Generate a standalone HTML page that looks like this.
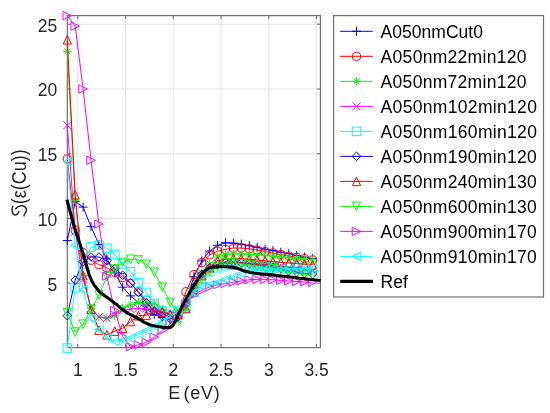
<!DOCTYPE html><html><head><meta charset="utf-8"><style>html,body{margin:0;padding:0;background:#fff;width:550px;height:413px;overflow:hidden}svg{display:block;will-change:transform}</style></head><body><svg width="550" height="413" viewBox="0 0 550 413">
<rect width="550" height="413" fill="#fff"/>
<path d="M77.80 15.6V347.6 M125.55 15.6V347.6 M173.30 15.6V347.6 M221.05 15.6V347.6 M268.80 15.6V347.6 M316.55 15.6V347.6 M67.3 283.30H320.4 M67.3 218.53H320.4 M67.3 153.75H320.4 M67.3 88.98H320.4 M67.3 24.20H320.4" stroke="#e3e3e3" stroke-width="1" fill="none"/>
<path d="M77.80 347.6V344.1M77.80 15.6V19.1 M125.55 347.6V344.1M125.55 15.6V19.1 M173.30 347.6V344.1M173.30 15.6V19.1 M221.05 347.6V344.1M221.05 15.6V19.1 M268.80 347.6V344.1M268.80 15.6V19.1 M316.55 347.6V344.1M316.55 15.6V19.1 M67.3 283.30H70.8M320.4 283.30H316.9 M67.3 218.53H70.8M320.4 218.53H316.9 M67.3 153.75H70.8M320.4 153.75H316.9 M67.3 88.98H70.8M320.4 88.98H316.9 M67.3 24.20H70.8M320.4 24.20H316.9" stroke="#707070" stroke-width="1.1" fill="none"/>
<rect x="67.3" y="15.6" width="253.10" height="332.00" stroke="#707070" stroke-width="1.2" fill="none"/>
<defs><clipPath id="cp"><rect x="61.3" y="9.6" width="265.09999999999997" height="344.0"/></clipPath></defs>
<g clip-path="url(#cp)" stroke-width="1" fill="none" stroke-linejoin="miter">
<path d="M67.30 240.55 L75.21 201.68 L83.12 207.12 L91.03 226.69 L98.94 244.44 L106.85 258.69 L114.76 272.94 L122.67 287.19 L130.58 295.87 L138.49 302.73 L146.40 309.21 L154.31 314.39 L162.22 317.63 L170.13 319.57 L178.04 315.69 L185.95 301.44 L193.86 276.82 L201.77 260.89 L209.68 251.04 L217.59 245.34 L225.50 242.75 L233.41 243.14 L241.32 244.18 L249.23 245.73 L257.14 247.41 L265.05 249.23 L272.96 250.65 L280.87 252.21 L288.78 253.76 L296.69 255.45 L304.60 257.13 L312.51 258.69" stroke="#0000ff"/>
<g><path d="M62.80 240.55H71.80M67.30 236.05V245.05" stroke="#0000ff"/><path d="M70.71 201.68H79.71M75.21 197.18V206.18" stroke="#0000ff"/><path d="M78.62 207.12H87.62M83.12 202.62V211.62" stroke="#0000ff"/><path d="M86.53 226.69H95.53M91.03 222.19V231.19" stroke="#0000ff"/><path d="M94.44 244.44H103.44M98.94 239.94V248.94" stroke="#0000ff"/><path d="M102.35 258.69H111.35M106.85 254.19V263.19" stroke="#0000ff"/><path d="M110.26 272.94H119.26M114.76 268.44V277.44" stroke="#0000ff"/><path d="M118.17 287.19H127.17M122.67 282.69V291.69" stroke="#0000ff"/><path d="M126.08 295.87H135.08M130.58 291.37V300.37" stroke="#0000ff"/><path d="M133.99 302.73H142.99M138.49 298.23V307.23" stroke="#0000ff"/><path d="M141.90 309.21H150.90M146.40 304.71V313.71" stroke="#0000ff"/><path d="M149.81 314.39H158.81M154.31 309.89V318.89" stroke="#0000ff"/><path d="M157.72 317.63H166.72M162.22 313.13V322.13" stroke="#0000ff"/><path d="M165.63 319.57H174.63M170.13 315.07V324.07" stroke="#0000ff"/><path d="M173.54 315.69H182.54M178.04 311.19V320.19" stroke="#0000ff"/><path d="M181.45 301.44H190.45M185.95 296.94V305.94" stroke="#0000ff"/><path d="M189.36 276.82H198.36M193.86 272.32V281.32" stroke="#0000ff"/><path d="M197.27 260.89H206.27M201.77 256.39V265.39" stroke="#0000ff"/><path d="M205.18 251.04H214.18M209.68 246.54V255.54" stroke="#0000ff"/><path d="M213.09 245.34H222.09M217.59 240.84V249.84" stroke="#0000ff"/><path d="M221.00 242.75H230.00M225.50 238.25V247.25" stroke="#0000ff"/><path d="M228.91 243.14H237.91M233.41 238.64V247.64" stroke="#0000ff"/><path d="M236.82 244.18H245.82M241.32 239.68V248.68" stroke="#0000ff"/><path d="M244.73 245.73H253.73M249.23 241.23V250.23" stroke="#0000ff"/><path d="M252.64 247.41H261.64M257.14 242.91V251.91" stroke="#0000ff"/><path d="M260.55 249.23H269.55M265.05 244.73V253.73" stroke="#0000ff"/><path d="M268.46 250.65H277.46M272.96 246.15V255.15" stroke="#0000ff"/><path d="M276.37 252.21H285.37M280.87 247.71V256.71" stroke="#0000ff"/><path d="M284.28 253.76H293.28M288.78 249.26V258.26" stroke="#0000ff"/><path d="M292.19 255.45H301.19M296.69 250.95V259.95" stroke="#0000ff"/><path d="M300.10 257.13H309.10M304.60 252.63V261.63" stroke="#0000ff"/><path d="M308.01 258.69H317.01M312.51 254.19V263.19" stroke="#0000ff"/></g>
<path d="M67.30 158.93 L75.21 230.18 L83.12 252.73 L91.03 260.24 L98.94 264.64 L106.85 267.75 L114.76 272.29 L122.67 277.47 L130.58 283.30 L138.49 291.72 L146.40 300.14 L154.31 307.91 L162.22 313.10 L170.13 315.69 L178.04 314.39 L185.95 291.72 L193.86 274.49 L201.77 262.57 L209.68 254.93 L217.59 251.17 L225.50 249.36 L233.41 248.06 L241.32 248.06 L249.23 248.84 L257.14 250.01 L265.05 251.56 L272.96 252.99 L280.87 254.54 L288.78 256.09 L296.69 257.39 L304.60 258.69 L312.51 259.98" stroke="#ff0000"/>
<g><circle cx="67.30" cy="158.93" r="4.1" stroke="#ff0000" fill="none"/><circle cx="75.21" cy="230.18" r="4.1" stroke="#ff0000" fill="none"/><circle cx="83.12" cy="252.73" r="4.1" stroke="#ff0000" fill="none"/><circle cx="91.03" cy="260.24" r="4.1" stroke="#ff0000" fill="none"/><circle cx="98.94" cy="264.64" r="4.1" stroke="#ff0000" fill="none"/><circle cx="106.85" cy="267.75" r="4.1" stroke="#ff0000" fill="none"/><circle cx="114.76" cy="272.29" r="4.1" stroke="#ff0000" fill="none"/><circle cx="122.67" cy="277.47" r="4.1" stroke="#ff0000" fill="none"/><circle cx="130.58" cy="283.30" r="4.1" stroke="#ff0000" fill="none"/><circle cx="138.49" cy="291.72" r="4.1" stroke="#ff0000" fill="none"/><circle cx="146.40" cy="300.14" r="4.1" stroke="#ff0000" fill="none"/><circle cx="154.31" cy="307.91" r="4.1" stroke="#ff0000" fill="none"/><circle cx="162.22" cy="313.10" r="4.1" stroke="#ff0000" fill="none"/><circle cx="170.13" cy="315.69" r="4.1" stroke="#ff0000" fill="none"/><circle cx="178.04" cy="314.39" r="4.1" stroke="#ff0000" fill="none"/><circle cx="185.95" cy="291.72" r="4.1" stroke="#ff0000" fill="none"/><circle cx="193.86" cy="274.49" r="4.1" stroke="#ff0000" fill="none"/><circle cx="201.77" cy="262.57" r="4.1" stroke="#ff0000" fill="none"/><circle cx="209.68" cy="254.93" r="4.1" stroke="#ff0000" fill="none"/><circle cx="217.59" cy="251.17" r="4.1" stroke="#ff0000" fill="none"/><circle cx="225.50" cy="249.36" r="4.1" stroke="#ff0000" fill="none"/><circle cx="233.41" cy="248.06" r="4.1" stroke="#ff0000" fill="none"/><circle cx="241.32" cy="248.06" r="4.1" stroke="#ff0000" fill="none"/><circle cx="249.23" cy="248.84" r="4.1" stroke="#ff0000" fill="none"/><circle cx="257.14" cy="250.01" r="4.1" stroke="#ff0000" fill="none"/><circle cx="265.05" cy="251.56" r="4.1" stroke="#ff0000" fill="none"/><circle cx="272.96" cy="252.99" r="4.1" stroke="#ff0000" fill="none"/><circle cx="280.87" cy="254.54" r="4.1" stroke="#ff0000" fill="none"/><circle cx="288.78" cy="256.09" r="4.1" stroke="#ff0000" fill="none"/><circle cx="296.69" cy="257.39" r="4.1" stroke="#ff0000" fill="none"/><circle cx="304.60" cy="258.69" r="4.1" stroke="#ff0000" fill="none"/><circle cx="312.51" cy="259.98" r="4.1" stroke="#ff0000" fill="none"/></g>
<path d="M67.30 51.41 L75.21 200.39 L83.12 275.53 L91.03 308.56 L98.94 316.98 L106.85 318.28 L114.76 315.69 L122.67 307.91 L130.58 304.81 L138.49 302.34 L146.40 302.73 L154.31 304.03 L162.22 309.21 L170.13 315.69 L178.04 321.26 L185.95 309.21 L193.86 288.48 L201.77 272.94 L209.68 263.87 L217.59 257.13 L225.50 254.54 L233.41 253.89 L241.32 253.89 L249.23 254.28 L257.14 254.80 L265.05 255.45 L272.96 256.09 L280.87 256.87 L288.78 257.65 L296.69 258.43 L304.60 259.20 L312.51 259.98" stroke="#00ff00"/>
<g><path d="M63.10 51.41H71.50M67.30 47.21V55.61M64.30 48.41L70.30 54.41M64.30 54.41L70.30 48.41" stroke="#00ff00"/><path d="M71.01 200.39H79.41M75.21 196.19V204.59M72.21 197.39L78.21 203.39M72.21 203.39L78.21 197.39" stroke="#00ff00"/><path d="M78.92 275.53H87.32M83.12 271.33V279.73M80.12 272.53L86.12 278.53M80.12 278.53L86.12 272.53" stroke="#00ff00"/><path d="M86.83 308.56H95.23M91.03 304.36V312.76M88.03 305.56L94.03 311.56M88.03 311.56L94.03 305.56" stroke="#00ff00"/><path d="M94.74 316.98H103.14M98.94 312.78V321.18M95.94 313.98L101.94 319.98M95.94 319.98L101.94 313.98" stroke="#00ff00"/><path d="M102.65 318.28H111.05M106.85 314.08V322.48M103.85 315.28L109.85 321.28M103.85 321.28L109.85 315.28" stroke="#00ff00"/><path d="M110.56 315.69H118.96M114.76 311.49V319.89M111.76 312.69L117.76 318.69M111.76 318.69L117.76 312.69" stroke="#00ff00"/><path d="M118.47 307.91H126.87M122.67 303.71V312.11M119.67 304.91L125.67 310.91M119.67 310.91L125.67 304.91" stroke="#00ff00"/><path d="M126.38 304.81H134.78M130.58 300.61V309.01M127.58 301.81L133.58 307.81M127.58 307.81L133.58 301.81" stroke="#00ff00"/><path d="M134.29 302.34H142.69M138.49 298.14V306.54M135.49 299.34L141.49 305.34M135.49 305.34L141.49 299.34" stroke="#00ff00"/><path d="M142.20 302.73H150.60M146.40 298.53V306.93M143.40 299.73L149.40 305.73M143.40 305.73L149.40 299.73" stroke="#00ff00"/><path d="M150.11 304.03H158.51M154.31 299.83V308.23M151.31 301.03L157.31 307.03M151.31 307.03L157.31 301.03" stroke="#00ff00"/><path d="M158.02 309.21H166.42M162.22 305.01V313.41M159.22 306.21L165.22 312.21M159.22 312.21L165.22 306.21" stroke="#00ff00"/><path d="M165.93 315.69H174.33M170.13 311.49V319.89M167.13 312.69L173.13 318.69M167.13 318.69L173.13 312.69" stroke="#00ff00"/><path d="M173.84 321.26H182.24M178.04 317.06V325.46M175.04 318.26L181.04 324.26M175.04 324.26L181.04 318.26" stroke="#00ff00"/><path d="M181.75 309.21H190.15M185.95 305.01V313.41M182.95 306.21L188.95 312.21M182.95 312.21L188.95 306.21" stroke="#00ff00"/><path d="M189.66 288.48H198.06M193.86 284.28V292.68M190.86 285.48L196.86 291.48M190.86 291.48L196.86 285.48" stroke="#00ff00"/><path d="M197.57 272.94H205.97M201.77 268.74V277.14M198.77 269.94L204.77 275.94M198.77 275.94L204.77 269.94" stroke="#00ff00"/><path d="M205.48 263.87H213.88M209.68 259.67V268.07M206.68 260.87L212.68 266.87M206.68 266.87L212.68 260.87" stroke="#00ff00"/><path d="M213.39 257.13H221.79M217.59 252.93V261.33M214.59 254.13L220.59 260.13M214.59 260.13L220.59 254.13" stroke="#00ff00"/><path d="M221.30 254.54H229.70M225.50 250.34V258.74M222.50 251.54L228.50 257.54M222.50 257.54L228.50 251.54" stroke="#00ff00"/><path d="M229.21 253.89H237.61M233.41 249.69V258.09M230.41 250.89L236.41 256.89M230.41 256.89L236.41 250.89" stroke="#00ff00"/><path d="M237.12 253.89H245.52M241.32 249.69V258.09M238.32 250.89L244.32 256.89M238.32 256.89L244.32 250.89" stroke="#00ff00"/><path d="M245.03 254.28H253.43M249.23 250.08V258.48M246.23 251.28L252.23 257.28M246.23 257.28L252.23 251.28" stroke="#00ff00"/><path d="M252.94 254.80H261.34M257.14 250.60V259.00M254.14 251.80L260.14 257.80M254.14 257.80L260.14 251.80" stroke="#00ff00"/><path d="M260.85 255.45H269.25M265.05 251.25V259.65M262.05 252.45L268.05 258.45M262.05 258.45L268.05 252.45" stroke="#00ff00"/><path d="M268.76 256.09H277.16M272.96 251.89V260.29M269.96 253.09L275.96 259.09M269.96 259.09L275.96 253.09" stroke="#00ff00"/><path d="M276.67 256.87H285.07M280.87 252.67V261.07M277.87 253.87L283.87 259.87M277.87 259.87L283.87 253.87" stroke="#00ff00"/><path d="M284.58 257.65H292.98M288.78 253.45V261.85M285.78 254.65L291.78 260.65M285.78 260.65L291.78 254.65" stroke="#00ff00"/><path d="M292.49 258.43H300.89M296.69 254.23V262.63M293.69 255.43L299.69 261.43M293.69 261.43L299.69 255.43" stroke="#00ff00"/><path d="M300.40 259.20H308.80M304.60 255.00V263.40M301.60 256.20L307.60 262.20M301.60 262.20L307.60 256.20" stroke="#00ff00"/><path d="M308.31 259.98H316.71M312.51 255.78V264.18M309.51 256.98L315.51 262.98M309.51 262.98L315.51 256.98" stroke="#00ff00"/></g>
<path d="M67.30 125.25 L75.21 231.48 L83.12 279.41 L91.03 307.91 L98.94 316.98 L106.85 318.28 L114.76 314.39 L122.67 310.51 L130.58 309.21 L138.49 308.17 L146.40 308.56 L154.31 310.51 L162.22 313.10 L170.13 315.69 L178.04 315.69 L185.95 306.62 L193.86 288.48 L201.77 275.53 L209.68 267.75 L217.59 263.87 L225.50 262.57 L233.41 262.31 L241.32 262.57 L249.23 263.22 L257.14 263.87 L265.05 264.52 L272.96 265.42 L280.87 266.46 L288.78 267.49 L296.69 268.40 L304.60 269.70 L312.51 270.99" stroke="#ff00ff"/>
<g><path d="M63.30 121.25L71.30 129.25M63.30 129.25L71.30 121.25" stroke="#ff00ff"/><path d="M71.21 227.48L79.21 235.48M71.21 235.48L79.21 227.48" stroke="#ff00ff"/><path d="M79.12 275.41L87.12 283.41M79.12 283.41L87.12 275.41" stroke="#ff00ff"/><path d="M87.03 303.91L95.03 311.91M87.03 311.91L95.03 303.91" stroke="#ff00ff"/><path d="M94.94 312.98L102.94 320.98M94.94 320.98L102.94 312.98" stroke="#ff00ff"/><path d="M102.85 314.28L110.85 322.28M102.85 322.28L110.85 314.28" stroke="#ff00ff"/><path d="M110.76 310.39L118.76 318.39M110.76 318.39L118.76 310.39" stroke="#ff00ff"/><path d="M118.67 306.51L126.67 314.51M118.67 314.51L126.67 306.51" stroke="#ff00ff"/><path d="M126.58 305.21L134.58 313.21M126.58 313.21L134.58 305.21" stroke="#ff00ff"/><path d="M134.49 304.17L142.49 312.17M134.49 312.17L142.49 304.17" stroke="#ff00ff"/><path d="M142.40 304.56L150.40 312.56M142.40 312.56L150.40 304.56" stroke="#ff00ff"/><path d="M150.31 306.51L158.31 314.51M150.31 314.51L158.31 306.51" stroke="#ff00ff"/><path d="M158.22 309.10L166.22 317.10M158.22 317.10L166.22 309.10" stroke="#ff00ff"/><path d="M166.13 311.69L174.13 319.69M166.13 319.69L174.13 311.69" stroke="#ff00ff"/><path d="M174.04 311.69L182.04 319.69M174.04 319.69L182.04 311.69" stroke="#ff00ff"/><path d="M181.95 302.62L189.95 310.62M181.95 310.62L189.95 302.62" stroke="#ff00ff"/><path d="M189.86 284.48L197.86 292.48M189.86 292.48L197.86 284.48" stroke="#ff00ff"/><path d="M197.77 271.53L205.77 279.53M197.77 279.53L205.77 271.53" stroke="#ff00ff"/><path d="M205.68 263.75L213.68 271.75M205.68 271.75L213.68 263.75" stroke="#ff00ff"/><path d="M213.59 259.87L221.59 267.87M213.59 267.87L221.59 259.87" stroke="#ff00ff"/><path d="M221.50 258.57L229.50 266.57M221.50 266.57L229.50 258.57" stroke="#ff00ff"/><path d="M229.41 258.31L237.41 266.31M229.41 266.31L237.41 258.31" stroke="#ff00ff"/><path d="M237.32 258.57L245.32 266.57M237.32 266.57L245.32 258.57" stroke="#ff00ff"/><path d="M245.23 259.22L253.23 267.22M245.23 267.22L253.23 259.22" stroke="#ff00ff"/><path d="M253.14 259.87L261.14 267.87M253.14 267.87L261.14 259.87" stroke="#ff00ff"/><path d="M261.05 260.52L269.05 268.52M261.05 268.52L269.05 260.52" stroke="#ff00ff"/><path d="M268.96 261.42L276.96 269.42M268.96 269.42L276.96 261.42" stroke="#ff00ff"/><path d="M276.87 262.46L284.87 270.46M276.87 270.46L284.87 262.46" stroke="#ff00ff"/><path d="M284.78 263.49L292.78 271.49M284.78 271.49L292.78 263.49" stroke="#ff00ff"/><path d="M292.69 264.40L300.69 272.40M292.69 272.40L300.69 264.40" stroke="#ff00ff"/><path d="M300.60 265.70L308.60 273.70M300.60 273.70L308.60 265.70" stroke="#ff00ff"/><path d="M308.51 266.99L316.51 274.99M308.51 274.99L316.51 266.99" stroke="#ff00ff"/></g>
<path d="M67.30 348.08 L75.21 287.83 L83.12 263.87 L91.03 247.03 L98.94 245.34 L106.85 248.32 L114.76 254.54 L122.67 263.87 L130.58 271.64 L138.49 282.65 L146.40 292.37 L154.31 303.38 L162.22 311.15 L170.13 314.39 L178.04 310.51 L185.95 307.91 L193.86 292.37 L201.77 279.41 L209.68 271.64 L217.59 267.75 L225.50 265.81 L233.41 265.16 L241.32 265.16 L249.23 265.42 L257.14 265.81 L265.05 266.20 L272.96 266.46 L280.87 266.72 L288.78 266.98 L296.69 267.24 L304.60 267.49 L312.51 267.75" stroke="#00ffff"/>
<g><rect x="63.05" y="343.83" width="8.50" height="8.50" stroke="#00ffff" fill="none"/><rect x="70.96" y="283.58" width="8.50" height="8.50" stroke="#00ffff" fill="none"/><rect x="78.87" y="259.62" width="8.50" height="8.50" stroke="#00ffff" fill="none"/><rect x="86.78" y="242.78" width="8.50" height="8.50" stroke="#00ffff" fill="none"/><rect x="94.69" y="241.09" width="8.50" height="8.50" stroke="#00ffff" fill="none"/><rect x="102.60" y="244.07" width="8.50" height="8.50" stroke="#00ffff" fill="none"/><rect x="110.51" y="250.29" width="8.50" height="8.50" stroke="#00ffff" fill="none"/><rect x="118.42" y="259.62" width="8.50" height="8.50" stroke="#00ffff" fill="none"/><rect x="126.33" y="267.39" width="8.50" height="8.50" stroke="#00ffff" fill="none"/><rect x="134.24" y="278.40" width="8.50" height="8.50" stroke="#00ffff" fill="none"/><rect x="142.15" y="288.12" width="8.50" height="8.50" stroke="#00ffff" fill="none"/><rect x="150.06" y="299.13" width="8.50" height="8.50" stroke="#00ffff" fill="none"/><rect x="157.97" y="306.90" width="8.50" height="8.50" stroke="#00ffff" fill="none"/><rect x="165.88" y="310.14" width="8.50" height="8.50" stroke="#00ffff" fill="none"/><rect x="173.79" y="306.26" width="8.50" height="8.50" stroke="#00ffff" fill="none"/><rect x="181.70" y="303.66" width="8.50" height="8.50" stroke="#00ffff" fill="none"/><rect x="189.61" y="288.12" width="8.50" height="8.50" stroke="#00ffff" fill="none"/><rect x="197.52" y="275.16" width="8.50" height="8.50" stroke="#00ffff" fill="none"/><rect x="205.43" y="267.39" width="8.50" height="8.50" stroke="#00ffff" fill="none"/><rect x="213.34" y="263.50" width="8.50" height="8.50" stroke="#00ffff" fill="none"/><rect x="221.25" y="261.56" width="8.50" height="8.50" stroke="#00ffff" fill="none"/><rect x="229.16" y="260.91" width="8.50" height="8.50" stroke="#00ffff" fill="none"/><rect x="237.07" y="260.91" width="8.50" height="8.50" stroke="#00ffff" fill="none"/><rect x="244.98" y="261.17" width="8.50" height="8.50" stroke="#00ffff" fill="none"/><rect x="252.89" y="261.56" width="8.50" height="8.50" stroke="#00ffff" fill="none"/><rect x="260.80" y="261.95" width="8.50" height="8.50" stroke="#00ffff" fill="none"/><rect x="268.71" y="262.21" width="8.50" height="8.50" stroke="#00ffff" fill="none"/><rect x="276.62" y="262.47" width="8.50" height="8.50" stroke="#00ffff" fill="none"/><rect x="284.53" y="262.73" width="8.50" height="8.50" stroke="#00ffff" fill="none"/><rect x="292.44" y="262.99" width="8.50" height="8.50" stroke="#00ffff" fill="none"/><rect x="300.35" y="263.24" width="8.50" height="8.50" stroke="#00ffff" fill="none"/><rect x="308.26" y="263.50" width="8.50" height="8.50" stroke="#00ffff" fill="none"/></g>
<path d="M67.30 315.69 L75.21 280.06 L83.12 261.79 L91.03 257.00 L98.94 257.00 L106.85 260.63 L114.76 268.53 L122.67 275.27 L130.58 283.04 L138.49 292.50 L146.40 302.73 L154.31 311.15 L162.22 316.34 L170.13 318.93 L178.04 316.98 L185.95 304.03 L193.86 287.19 L201.77 274.23 L209.68 267.75 L217.59 264.52 L225.50 262.18 L233.41 262.18 L241.32 262.83 L249.23 263.87 L257.14 265.03 L265.05 266.20 L272.96 267.37 L280.87 268.66 L288.78 270.99 L296.69 272.16 L304.60 273.20 L312.51 274.23" stroke="#0000ff"/>
<g><path d="M67.30 311.39L71.60 315.69L67.30 319.99L63.00 315.69Z" stroke="#0000ff" fill="none"/><path d="M75.21 275.76L79.51 280.06L75.21 284.36L70.91 280.06Z" stroke="#0000ff" fill="none"/><path d="M83.12 257.49L87.42 261.79L83.12 266.09L78.82 261.79Z" stroke="#0000ff" fill="none"/><path d="M91.03 252.70L95.33 257.00L91.03 261.30L86.73 257.00Z" stroke="#0000ff" fill="none"/><path d="M98.94 252.70L103.24 257.00L98.94 261.30L94.64 257.00Z" stroke="#0000ff" fill="none"/><path d="M106.85 256.33L111.15 260.63L106.85 264.93L102.55 260.63Z" stroke="#0000ff" fill="none"/><path d="M114.76 264.23L119.06 268.53L114.76 272.83L110.46 268.53Z" stroke="#0000ff" fill="none"/><path d="M122.67 270.97L126.97 275.27L122.67 279.57L118.37 275.27Z" stroke="#0000ff" fill="none"/><path d="M130.58 278.74L134.88 283.04L130.58 287.34L126.28 283.04Z" stroke="#0000ff" fill="none"/><path d="M138.49 288.20L142.79 292.50L138.49 296.80L134.19 292.50Z" stroke="#0000ff" fill="none"/><path d="M146.40 298.43L150.70 302.73L146.40 307.03L142.10 302.73Z" stroke="#0000ff" fill="none"/><path d="M154.31 306.85L158.61 311.15L154.31 315.45L150.01 311.15Z" stroke="#0000ff" fill="none"/><path d="M162.22 312.04L166.52 316.34L162.22 320.64L157.92 316.34Z" stroke="#0000ff" fill="none"/><path d="M170.13 314.63L174.43 318.93L170.13 323.23L165.83 318.93Z" stroke="#0000ff" fill="none"/><path d="M178.04 312.68L182.34 316.98L178.04 321.28L173.74 316.98Z" stroke="#0000ff" fill="none"/><path d="M185.95 299.73L190.25 304.03L185.95 308.33L181.65 304.03Z" stroke="#0000ff" fill="none"/><path d="M193.86 282.89L198.16 287.19L193.86 291.49L189.56 287.19Z" stroke="#0000ff" fill="none"/><path d="M201.77 269.93L206.07 274.23L201.77 278.53L197.47 274.23Z" stroke="#0000ff" fill="none"/><path d="M209.68 263.45L213.98 267.75L209.68 272.05L205.38 267.75Z" stroke="#0000ff" fill="none"/><path d="M217.59 260.22L221.89 264.52L217.59 268.82L213.29 264.52Z" stroke="#0000ff" fill="none"/><path d="M225.50 257.88L229.80 262.18L225.50 266.48L221.20 262.18Z" stroke="#0000ff" fill="none"/><path d="M233.41 257.88L237.71 262.18L233.41 266.48L229.11 262.18Z" stroke="#0000ff" fill="none"/><path d="M241.32 258.53L245.62 262.83L241.32 267.13L237.02 262.83Z" stroke="#0000ff" fill="none"/><path d="M249.23 259.57L253.53 263.87L249.23 268.17L244.93 263.87Z" stroke="#0000ff" fill="none"/><path d="M257.14 260.73L261.44 265.03L257.14 269.33L252.84 265.03Z" stroke="#0000ff" fill="none"/><path d="M265.05 261.90L269.35 266.20L265.05 270.50L260.75 266.20Z" stroke="#0000ff" fill="none"/><path d="M272.96 263.07L277.26 267.37L272.96 271.67L268.66 267.37Z" stroke="#0000ff" fill="none"/><path d="M280.87 264.36L285.17 268.66L280.87 272.96L276.57 268.66Z" stroke="#0000ff" fill="none"/><path d="M288.78 266.69L293.08 270.99L288.78 275.29L284.48 270.99Z" stroke="#0000ff" fill="none"/><path d="M296.69 267.86L300.99 272.16L296.69 276.46L292.39 272.16Z" stroke="#0000ff" fill="none"/><path d="M304.60 268.90L308.90 273.20L304.60 277.50L300.30 273.20Z" stroke="#0000ff" fill="none"/><path d="M312.51 269.93L316.81 274.23L312.51 278.53L308.21 274.23Z" stroke="#0000ff" fill="none"/></g>
<path d="M67.30 39.75 L75.21 194.82 L83.12 275.53 L91.03 309.21 L98.94 330.07 L106.85 334.73 L114.76 331.10 L122.67 328.12 L130.58 321.52 L138.49 315.69 L146.40 315.04 L154.31 311.15 L162.22 311.80 L170.13 314.39 L178.04 314.39 L185.95 308.56 L193.86 289.78 L201.77 275.53 L209.68 267.75 L217.59 261.02 L225.50 259.07 L233.41 258.43 L241.32 258.69 L249.23 259.33 L257.14 259.98 L265.05 260.76 L272.96 261.54 L280.87 262.31 L288.78 262.96 L296.69 263.61 L304.60 264.26 L312.51 264.90" stroke="#ff0000"/>
<g><path d="M67.30 35.45L71.40 44.05L63.20 44.05Z" stroke="#ff0000" fill="none"/><path d="M75.21 190.52L79.31 199.12L71.11 199.12Z" stroke="#ff0000" fill="none"/><path d="M83.12 271.23L87.22 279.83L79.02 279.83Z" stroke="#ff0000" fill="none"/><path d="M91.03 304.91L95.13 313.51L86.93 313.51Z" stroke="#ff0000" fill="none"/><path d="M98.94 325.77L103.04 334.37L94.84 334.37Z" stroke="#ff0000" fill="none"/><path d="M106.85 330.43L110.95 339.03L102.75 339.03Z" stroke="#ff0000" fill="none"/><path d="M114.76 326.80L118.86 335.40L110.66 335.40Z" stroke="#ff0000" fill="none"/><path d="M122.67 323.82L126.77 332.42L118.57 332.42Z" stroke="#ff0000" fill="none"/><path d="M130.58 317.22L134.68 325.82L126.48 325.82Z" stroke="#ff0000" fill="none"/><path d="M138.49 311.39L142.59 319.99L134.39 319.99Z" stroke="#ff0000" fill="none"/><path d="M146.40 310.74L150.50 319.34L142.30 319.34Z" stroke="#ff0000" fill="none"/><path d="M154.31 306.85L158.41 315.45L150.21 315.45Z" stroke="#ff0000" fill="none"/><path d="M162.22 307.50L166.32 316.10L158.12 316.10Z" stroke="#ff0000" fill="none"/><path d="M170.13 310.09L174.23 318.69L166.03 318.69Z" stroke="#ff0000" fill="none"/><path d="M178.04 310.09L182.14 318.69L173.94 318.69Z" stroke="#ff0000" fill="none"/><path d="M185.95 304.26L190.05 312.86L181.85 312.86Z" stroke="#ff0000" fill="none"/><path d="M193.86 285.48L197.96 294.08L189.76 294.08Z" stroke="#ff0000" fill="none"/><path d="M201.77 271.23L205.87 279.83L197.67 279.83Z" stroke="#ff0000" fill="none"/><path d="M209.68 263.45L213.78 272.05L205.58 272.05Z" stroke="#ff0000" fill="none"/><path d="M217.59 256.72L221.69 265.32L213.49 265.32Z" stroke="#ff0000" fill="none"/><path d="M225.50 254.77L229.60 263.37L221.40 263.37Z" stroke="#ff0000" fill="none"/><path d="M233.41 254.13L237.51 262.73L229.31 262.73Z" stroke="#ff0000" fill="none"/><path d="M241.32 254.39L245.42 262.99L237.22 262.99Z" stroke="#ff0000" fill="none"/><path d="M249.23 255.03L253.33 263.63L245.13 263.63Z" stroke="#ff0000" fill="none"/><path d="M257.14 255.68L261.24 264.28L253.04 264.28Z" stroke="#ff0000" fill="none"/><path d="M265.05 256.46L269.15 265.06L260.95 265.06Z" stroke="#ff0000" fill="none"/><path d="M272.96 257.24L277.06 265.84L268.86 265.84Z" stroke="#ff0000" fill="none"/><path d="M280.87 258.01L284.97 266.61L276.77 266.61Z" stroke="#ff0000" fill="none"/><path d="M288.78 258.66L292.88 267.26L284.68 267.26Z" stroke="#ff0000" fill="none"/><path d="M296.69 259.31L300.79 267.91L292.59 267.91Z" stroke="#ff0000" fill="none"/><path d="M304.60 259.96L308.70 268.56L300.50 268.56Z" stroke="#ff0000" fill="none"/><path d="M312.51 260.60L316.61 269.20L308.41 269.20Z" stroke="#ff0000" fill="none"/></g>
<path d="M67.30 312.71 L75.21 332.14 L83.12 324.24 L91.03 309.21 L98.94 294.96 L106.85 276.82 L114.76 269.05 L122.67 262.44 L130.58 259.33 L138.49 259.98 L146.40 264.26 L154.31 272.29 L162.22 287.19 L170.13 302.34 L178.04 313.10 L185.95 306.62 L193.86 291.07 L201.77 279.41 L209.68 271.64 L217.59 266.46 L225.50 262.96 L233.41 262.96 L241.32 263.87 L249.23 264.90 L257.14 266.20 L265.05 267.49 L272.96 268.79 L280.87 269.83 L288.78 272.42 L296.69 273.45 L304.60 274.49 L312.51 275.53" stroke="#00ff00"/>
<g><path d="M67.30 317.01L71.40 308.41L63.20 308.41Z" stroke="#00ff00" fill="none"/><path d="M75.21 336.44L79.31 327.84L71.11 327.84Z" stroke="#00ff00" fill="none"/><path d="M83.12 328.54L87.22 319.94L79.02 319.94Z" stroke="#00ff00" fill="none"/><path d="M91.03 313.51L95.13 304.91L86.93 304.91Z" stroke="#00ff00" fill="none"/><path d="M98.94 299.26L103.04 290.66L94.84 290.66Z" stroke="#00ff00" fill="none"/><path d="M106.85 281.12L110.95 272.52L102.75 272.52Z" stroke="#00ff00" fill="none"/><path d="M114.76 273.35L118.86 264.75L110.66 264.75Z" stroke="#00ff00" fill="none"/><path d="M122.67 266.74L126.77 258.14L118.57 258.14Z" stroke="#00ff00" fill="none"/><path d="M130.58 263.63L134.68 255.03L126.48 255.03Z" stroke="#00ff00" fill="none"/><path d="M138.49 264.28L142.59 255.68L134.39 255.68Z" stroke="#00ff00" fill="none"/><path d="M146.40 268.56L150.50 259.96L142.30 259.96Z" stroke="#00ff00" fill="none"/><path d="M154.31 276.59L158.41 267.99L150.21 267.99Z" stroke="#00ff00" fill="none"/><path d="M162.22 291.49L166.32 282.89L158.12 282.89Z" stroke="#00ff00" fill="none"/><path d="M170.13 306.64L174.23 298.04L166.03 298.04Z" stroke="#00ff00" fill="none"/><path d="M178.04 317.40L182.14 308.80L173.94 308.80Z" stroke="#00ff00" fill="none"/><path d="M185.95 310.92L190.05 302.32L181.85 302.32Z" stroke="#00ff00" fill="none"/><path d="M193.86 295.37L197.96 286.77L189.76 286.77Z" stroke="#00ff00" fill="none"/><path d="M201.77 283.71L205.87 275.11L197.67 275.11Z" stroke="#00ff00" fill="none"/><path d="M209.68 275.94L213.78 267.34L205.58 267.34Z" stroke="#00ff00" fill="none"/><path d="M217.59 270.76L221.69 262.16L213.49 262.16Z" stroke="#00ff00" fill="none"/><path d="M225.50 267.26L229.60 258.66L221.40 258.66Z" stroke="#00ff00" fill="none"/><path d="M233.41 267.26L237.51 258.66L229.31 258.66Z" stroke="#00ff00" fill="none"/><path d="M241.32 268.17L245.42 259.57L237.22 259.57Z" stroke="#00ff00" fill="none"/><path d="M249.23 269.20L253.33 260.60L245.13 260.60Z" stroke="#00ff00" fill="none"/><path d="M257.14 270.50L261.24 261.90L253.04 261.90Z" stroke="#00ff00" fill="none"/><path d="M265.05 271.79L269.15 263.19L260.95 263.19Z" stroke="#00ff00" fill="none"/><path d="M272.96 273.09L277.06 264.49L268.86 264.49Z" stroke="#00ff00" fill="none"/><path d="M280.87 274.13L284.97 265.53L276.77 265.53Z" stroke="#00ff00" fill="none"/><path d="M288.78 276.72L292.88 268.12L284.68 268.12Z" stroke="#00ff00" fill="none"/><path d="M296.69 277.75L300.79 269.15L292.59 269.15Z" stroke="#00ff00" fill="none"/><path d="M304.60 278.79L308.70 270.19L300.50 270.19Z" stroke="#00ff00" fill="none"/><path d="M312.51 279.83L316.61 271.23L308.41 271.23Z" stroke="#00ff00" fill="none"/></g>
<path d="M67.30 15.52 L75.21 26.14 L83.12 88.98 L91.03 160.23 L98.94 224.10 L106.85 276.17 L114.76 310.51 L122.67 336.42 L130.58 346.78 L138.49 344.84 L146.40 342.37 L154.31 337.06 L162.22 330.59 L170.13 324.11 L178.04 315.69 L185.95 304.03 L193.86 294.96 L201.77 290.43 L209.68 286.93 L217.59 284.85 L225.50 283.56 L233.41 282.13 L241.32 280.97 L249.23 279.67 L257.14 279.41 L265.05 279.41 L272.96 279.80 L280.87 280.45 L288.78 280.97 L296.69 281.49 L304.60 282.00 L312.51 282.39" stroke="#ff00ff"/>
<g><path d="M71.60 15.52L63.00 11.42L63.00 19.62Z" stroke="#ff00ff" fill="none"/><path d="M79.51 26.14L70.91 22.04L70.91 30.24Z" stroke="#ff00ff" fill="none"/><path d="M87.42 88.98L78.82 84.88L78.82 93.08Z" stroke="#ff00ff" fill="none"/><path d="M95.33 160.23L86.73 156.13L86.73 164.33Z" stroke="#ff00ff" fill="none"/><path d="M103.24 224.10L94.64 220.00L94.64 228.20Z" stroke="#ff00ff" fill="none"/><path d="M111.15 276.17L102.55 272.07L102.55 280.27Z" stroke="#ff00ff" fill="none"/><path d="M119.06 310.51L110.46 306.41L110.46 314.61Z" stroke="#ff00ff" fill="none"/><path d="M126.97 336.42L118.37 332.32L118.37 340.52Z" stroke="#ff00ff" fill="none"/><path d="M134.88 346.78L126.28 342.68L126.28 350.88Z" stroke="#ff00ff" fill="none"/><path d="M142.79 344.84L134.19 340.74L134.19 348.94Z" stroke="#ff00ff" fill="none"/><path d="M150.70 342.37L142.10 338.27L142.10 346.47Z" stroke="#ff00ff" fill="none"/><path d="M158.61 337.06L150.01 332.96L150.01 341.16Z" stroke="#ff00ff" fill="none"/><path d="M166.52 330.59L157.92 326.49L157.92 334.69Z" stroke="#ff00ff" fill="none"/><path d="M174.43 324.11L165.83 320.01L165.83 328.21Z" stroke="#ff00ff" fill="none"/><path d="M182.34 315.69L173.74 311.59L173.74 319.79Z" stroke="#ff00ff" fill="none"/><path d="M190.25 304.03L181.65 299.93L181.65 308.13Z" stroke="#ff00ff" fill="none"/><path d="M198.16 294.96L189.56 290.86L189.56 299.06Z" stroke="#ff00ff" fill="none"/><path d="M206.07 290.43L197.47 286.33L197.47 294.53Z" stroke="#ff00ff" fill="none"/><path d="M213.98 286.93L205.38 282.83L205.38 291.03Z" stroke="#ff00ff" fill="none"/><path d="M221.89 284.85L213.29 280.75L213.29 288.95Z" stroke="#ff00ff" fill="none"/><path d="M229.80 283.56L221.20 279.46L221.20 287.66Z" stroke="#ff00ff" fill="none"/><path d="M237.71 282.13L229.11 278.03L229.11 286.23Z" stroke="#ff00ff" fill="none"/><path d="M245.62 280.97L237.02 276.87L237.02 285.07Z" stroke="#ff00ff" fill="none"/><path d="M253.53 279.67L244.93 275.57L244.93 283.77Z" stroke="#ff00ff" fill="none"/><path d="M261.44 279.41L252.84 275.31L252.84 283.51Z" stroke="#ff00ff" fill="none"/><path d="M269.35 279.41L260.75 275.31L260.75 283.51Z" stroke="#ff00ff" fill="none"/><path d="M277.26 279.80L268.66 275.70L268.66 283.90Z" stroke="#ff00ff" fill="none"/><path d="M285.17 280.45L276.57 276.35L276.57 284.55Z" stroke="#ff00ff" fill="none"/><path d="M293.08 280.97L284.48 276.87L284.48 285.07Z" stroke="#ff00ff" fill="none"/><path d="M300.99 281.49L292.39 277.39L292.39 285.59Z" stroke="#ff00ff" fill="none"/><path d="M308.90 282.00L300.30 277.90L300.30 286.10Z" stroke="#ff00ff" fill="none"/><path d="M316.81 282.39L308.21 278.29L308.21 286.49Z" stroke="#ff00ff" fill="none"/></g>
<path d="M67.30 161.52 L75.21 245.08 L83.12 289.78 L91.03 318.28 L98.94 329.55 L106.85 337.45 L114.76 341.34 L122.67 340.43 L130.58 338.10 L138.49 334.21 L146.40 330.33 L154.31 326.44 L162.22 321.52 L170.13 316.98 L178.04 311.15 L185.95 301.44 L193.86 292.37 L201.77 286.15 L209.68 284.60 L217.59 282.52 L225.50 279.41 L233.41 276.82 L241.32 273.58 L249.23 270.99 L257.14 269.96 L265.05 269.31 L272.96 269.05 L280.87 268.79 L288.78 268.66 L296.69 268.53 L304.60 268.40 L312.51 268.40" stroke="#00ffff"/>
<g><path d="M63.00 161.52L71.60 157.42L71.60 165.62Z" stroke="#00ffff" fill="none"/><path d="M70.91 245.08L79.51 240.98L79.51 249.18Z" stroke="#00ffff" fill="none"/><path d="M78.82 289.78L87.42 285.68L87.42 293.88Z" stroke="#00ffff" fill="none"/><path d="M86.73 318.28L95.33 314.18L95.33 322.38Z" stroke="#00ffff" fill="none"/><path d="M94.64 329.55L103.24 325.45L103.24 333.65Z" stroke="#00ffff" fill="none"/><path d="M102.55 337.45L111.15 333.35L111.15 341.55Z" stroke="#00ffff" fill="none"/><path d="M110.46 341.34L119.06 337.24L119.06 345.44Z" stroke="#00ffff" fill="none"/><path d="M118.37 340.43L126.97 336.33L126.97 344.53Z" stroke="#00ffff" fill="none"/><path d="M126.28 338.10L134.88 334.00L134.88 342.20Z" stroke="#00ffff" fill="none"/><path d="M134.19 334.21L142.79 330.11L142.79 338.31Z" stroke="#00ffff" fill="none"/><path d="M142.10 330.33L150.70 326.23L150.70 334.43Z" stroke="#00ffff" fill="none"/><path d="M150.01 326.44L158.61 322.34L158.61 330.54Z" stroke="#00ffff" fill="none"/><path d="M157.92 321.52L166.52 317.42L166.52 325.62Z" stroke="#00ffff" fill="none"/><path d="M165.83 316.98L174.43 312.88L174.43 321.08Z" stroke="#00ffff" fill="none"/><path d="M173.74 311.15L182.34 307.05L182.34 315.25Z" stroke="#00ffff" fill="none"/><path d="M181.65 301.44L190.25 297.34L190.25 305.54Z" stroke="#00ffff" fill="none"/><path d="M189.56 292.37L198.16 288.27L198.16 296.47Z" stroke="#00ffff" fill="none"/><path d="M197.47 286.15L206.07 282.05L206.07 290.25Z" stroke="#00ffff" fill="none"/><path d="M205.38 284.60L213.98 280.50L213.98 288.70Z" stroke="#00ffff" fill="none"/><path d="M213.29 282.52L221.89 278.42L221.89 286.62Z" stroke="#00ffff" fill="none"/><path d="M221.20 279.41L229.80 275.31L229.80 283.51Z" stroke="#00ffff" fill="none"/><path d="M229.11 276.82L237.71 272.72L237.71 280.92Z" stroke="#00ffff" fill="none"/><path d="M237.02 273.58L245.62 269.48L245.62 277.68Z" stroke="#00ffff" fill="none"/><path d="M244.93 270.99L253.53 266.89L253.53 275.09Z" stroke="#00ffff" fill="none"/><path d="M252.84 269.96L261.44 265.86L261.44 274.06Z" stroke="#00ffff" fill="none"/><path d="M260.75 269.31L269.35 265.21L269.35 273.41Z" stroke="#00ffff" fill="none"/><path d="M268.66 269.05L277.26 264.95L277.26 273.15Z" stroke="#00ffff" fill="none"/><path d="M276.57 268.79L285.17 264.69L285.17 272.89Z" stroke="#00ffff" fill="none"/><path d="M284.48 268.66L293.08 264.56L293.08 272.76Z" stroke="#00ffff" fill="none"/><path d="M292.39 268.53L300.99 264.43L300.99 272.63Z" stroke="#00ffff" fill="none"/><path d="M300.30 268.40L308.90 264.30L308.90 272.50Z" stroke="#00ffff" fill="none"/><path d="M308.21 268.40L316.81 264.30L316.81 272.50Z" stroke="#00ffff" fill="none"/></g>
<path d="M66.91 199.74 L73.12 222.93 L78.85 240.55 L81.14 247.67 L83.05 253.50 L86.11 264.26 L89.16 274.75 L91.65 280.71 L94.03 284.85 L96.42 288.09 L98.81 291.07 L101.20 293.28 L103.68 295.09 L109.70 299.36 L115.81 303.90 L121.83 309.08 L127.94 313.36 L134.05 316.46 L139.97 319.70 L144.84 322.55 L149.71 324.76 L154.49 326.05 L159.45 326.70 L164.23 327.35 L168.14 327.87 L170.63 327.35 L172.82 325.40 L176.16 319.57 L178.93 312.84 L182.85 304.93 L186.96 297.16 L190.49 290.68 L194.02 284.85 L197.65 279.41 L201.19 274.62 L204.72 270.86 L208.16 268.40 L212.26 267.11 L219.33 266.72 L224.01 266.72 L231.46 267.11 L236.04 267.88 L240.53 269.57 L245.12 271.25 L249.70 272.29 L255.14 273.20 L260.49 273.84 L266.03 274.36 L272.05 274.88 L281.12 276.05 L290.19 277.08 L299.26 278.25 L308.43 279.28 L320.66 280.45" stroke="#000" stroke-width="3.1" stroke-linejoin="round"/>
</g>
<g font-family="Liberation Sans, sans-serif" font-size="17.5" fill="#262626">
<text x="77.80" y="375.7" text-anchor="middle">1</text>
<text x="125.55" y="375.7" text-anchor="middle">1.5</text>
<text x="173.30" y="375.7" text-anchor="middle">2</text>
<text x="221.05" y="375.7" text-anchor="middle">2.5</text>
<text x="268.80" y="375.7" text-anchor="middle">3</text>
<text x="316.55" y="375.7" text-anchor="middle">3.5</text>
<text x="57.2" y="290.70" text-anchor="end">5</text>
<text x="57.2" y="225.93" text-anchor="end">10</text>
<text x="57.2" y="161.15" text-anchor="end">15</text>
<text x="57.2" y="96.38" text-anchor="end">20</text>
<text x="57.2" y="31.60" text-anchor="end">25</text>
</g>
<g font-family="Liberation Sans, sans-serif" font-size="18" fill="#262626"><text x="168.2" y="399.3">E</text><text x="183.6" y="399.3" textLength="36.2" lengthAdjust="spacing">(eV)</text></g>
<g transform="translate(25.6 204.2) rotate(-90) scale(1 1.1)" font-family="Liberation Sans, sans-serif" font-size="18" fill="#262626"><text x="0" y="0" textLength="54.8" lengthAdjust="spacingAndGlyphs">(ε(Cu))</text></g>
<path d="M12.9 206.2 C11.8 208 11.6 212.3 13.2 214.1 C14.3 215.4 16.6 215.6 17.9 213.4 C18.4 212.6 18.7 212 18.8 211.4 M15.6 208.8 C17 207.2 19 206 21.2 205.8 C23.4 205.6 25.2 206.6 26.1 208.4 C26.9 210 26 212 25 213.4 C24.4 214.3 24.1 215 24 215.8" stroke="#262626" stroke-width="1.45" fill="none" stroke-linecap="round"/>
<rect x="333.6" y="15.6" width="209.90" height="281.40" fill="#fff" stroke="#707070" stroke-width="1.2"/>
<g font-family="Liberation Sans, sans-serif" font-size="17.5" fill="#000">
<path d="M340.2 31.30H372.8" stroke="#0000ff" stroke-width="1"/>
<g fill="none" stroke-width="1"><path d="M352.00 31.30H361.00M356.50 26.80V35.80" stroke="#0000ff"/></g>
<text x="380.6" y="38.30" textLength="102.4" lengthAdjust="spacing">A050nmCut0</text>
<path d="M340.2 56.31H372.8" stroke="#ff0000" stroke-width="1"/>
<g fill="none" stroke-width="1"><circle cx="356.50" cy="56.31" r="4.1" stroke="#ff0000" fill="none"/></g>
<text x="380.6" y="63.31" textLength="145.9" lengthAdjust="spacing">A050nm22min120</text>
<path d="M340.2 81.32H372.8" stroke="#00ff00" stroke-width="1"/>
<g fill="none" stroke-width="1"><path d="M352.30 81.32H360.70M356.50 77.12V85.52M353.50 78.32L359.50 84.32M353.50 84.32L359.50 78.32" stroke="#00ff00"/></g>
<text x="380.6" y="88.32" textLength="145.9" lengthAdjust="spacing">A050nm72min120</text>
<path d="M340.2 106.33H372.8" stroke="#ff00ff" stroke-width="1"/>
<g fill="none" stroke-width="1"><path d="M352.50 102.33L360.50 110.33M352.50 110.33L360.50 102.33" stroke="#ff00ff"/></g>
<text x="380.6" y="113.33" textLength="156.3" lengthAdjust="spacing">A050nm102min120</text>
<path d="M340.2 131.34H372.8" stroke="#00ffff" stroke-width="1"/>
<g fill="none" stroke-width="1"><rect x="352.25" y="127.09" width="8.50" height="8.50" stroke="#00ffff" fill="none"/></g>
<text x="380.6" y="138.34" textLength="156.3" lengthAdjust="spacing">A050nm160min120</text>
<path d="M340.2 156.35H372.8" stroke="#0000ff" stroke-width="1"/>
<g fill="none" stroke-width="1"><path d="M356.50 152.05L360.80 156.35L356.50 160.65L352.20 156.35Z" stroke="#0000ff" fill="none"/></g>
<text x="380.6" y="163.35" textLength="156.1" lengthAdjust="spacing">A050nm190min120</text>
<path d="M340.2 181.36H372.8" stroke="#ff0000" stroke-width="1"/>
<g fill="none" stroke-width="1"><path d="M356.50 177.06L360.60 185.66L352.40 185.66Z" stroke="#ff0000" fill="none"/></g>
<text x="380.6" y="188.36" textLength="156.1" lengthAdjust="spacing">A050nm240min130</text>
<path d="M340.2 206.37H372.8" stroke="#00ff00" stroke-width="1"/>
<g fill="none" stroke-width="1"><path d="M356.50 210.67L360.60 202.07L352.40 202.07Z" stroke="#00ff00" fill="none"/></g>
<text x="380.6" y="213.37" textLength="156.1" lengthAdjust="spacing">A050nm600min130</text>
<path d="M340.2 231.38H372.8" stroke="#ff00ff" stroke-width="1"/>
<g fill="none" stroke-width="1"><path d="M360.80 231.38L352.20 227.28L352.20 235.48Z" stroke="#ff00ff" fill="none"/></g>
<text x="380.6" y="238.38" textLength="156.1" lengthAdjust="spacing">A050nm900min170</text>
<path d="M340.2 256.39H372.8" stroke="#00ffff" stroke-width="1"/>
<g fill="none" stroke-width="1"><path d="M352.20 256.39L360.80 252.29L360.80 260.49Z" stroke="#00ffff" fill="none"/></g>
<text x="380.6" y="263.39" textLength="156.1" lengthAdjust="spacing">A050nm910min170</text>
<path d="M340.2 281.40H373.0" stroke="#000" stroke-width="3.2"/>
<text x="380.6" y="288.40">Ref</text>
</g>
</svg></body></html>
